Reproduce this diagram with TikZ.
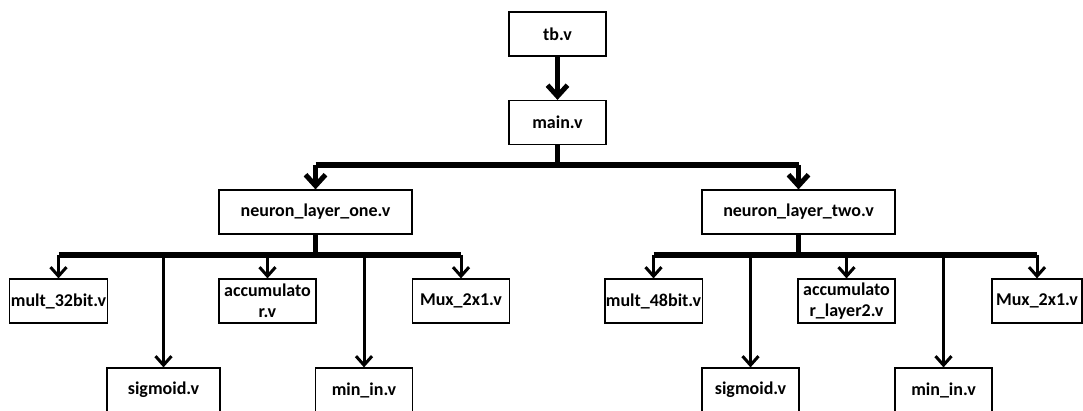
\documentclass[tikz,border=0pt]{standalone}
\usepackage{fontspec}
\setmainfont{Carlito}
\usetikzlibrary{arrows.meta}

\begin{document}
\begin{tikzpicture}[
    x=1pt, y=-1pt,
    every node/.style={rectangle, draw, line width=1.2pt, align=center, inner sep=1pt,
        minimum width=97pt, minimum height=44pt, font=\bfseries\fontsize{18}{21}\selectfont},
    bus/.style={line width=5.5pt},
    topbranch/.style={line width=5pt, -{Straight Barb[length=11pt,width=20pt]}},
    branch/.style={line width=3pt, -{Straight Barb[length=9pt,width=16pt]}}
]
\useasboundingbox (0,0) rectangle (1083,411);
\fill[white] (0,0) rectangle (1083,411);
\clip (0,0) rectangle (1083,411);

\node (tb) at (557.5,34) {tb.v};
\node (main) at (557.5,122.5) {main.v};
\node[minimum width=193pt] (nlo) at (315.5,212) {neuron\_layer\_one.v};
\node[minimum width=193pt] (nlt) at (798.5,212) {neuron\_layer\_two.v};

\node (mult32) at (58.5,301) {mult\_32bit.v};
\node (acc1) at (267.5,301) {accumulato\\r.v};
\node (mux1) at (461,301) {Mux\_2x1.v};
\node[minimum width=113pt] (sig1) at (163.5,390) {sigmoid.v};
\node (min1) at (364,390) {min\_in.v};

\node (mult48) at (653.5,301) {mult\_48bit.v};
\node (acc2) at (846.5,301) {accumulato\\r\_layer2.v};
\node[minimum width=90pt] (mux2) at (1037,301) {Mux\_2x1.v};
\node (sig2) at (750.5,390) {sigmoid.v};
\node (min2) at (943.5,390) {min\_in.v};

\coordinate (bus0) at (0,165);
\coordinate (bus1) at (0,255);

\draw[topbranch] (tb) -- (main);
\draw[bus] (main.south) -- (main.south |- bus0);
\draw[bus] (nlo.north |- bus0) -- (nlt.north |- bus0);
\draw[topbranch] (nlo.north |- bus0) -- (nlo.north);
\draw[topbranch] (nlt.north |- bus0) -- (nlt.north);

\draw[bus] (nlo.south) -- (nlo.south |- bus1);
\draw[bus] (mult32.north |- bus1) -- (mux1.north |- bus1);
\foreach \n in {mult32,sig1,acc1,min1,mux1}
    \draw[branch] (\n.north |- bus1) -- (\n.north);

\draw[bus] (nlt.south) -- (nlt.south |- bus1);
\draw[bus] (mult48.north |- bus1) -- (mux2.north |- bus1);
\foreach \n in {mult48,sig2,acc2,min2,mux2}
    \draw[branch] (\n.north |- bus1) -- (\n.north);
\end{tikzpicture}
\end{document}
